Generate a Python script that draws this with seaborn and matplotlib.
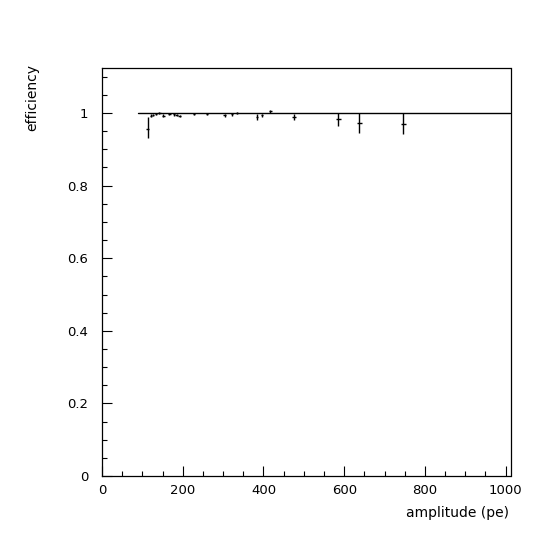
import matplotlib
matplotlib.use("Agg")
import matplotlib.pyplot as plt
import matplotlib.ticker as mticker
import pandas as pd
import seaborn as sns

# efficiency vs amplitude
amp = [113, 121.5, 127, 134, 142, 152, 167, 179, 185, 192, 228, 260,
       303.5, 322, 334, 384, 396, 417, 475.5, 585, 637, 746]
eff = [0.956, 0.993, 0.995, 0.997, 1.0, 0.993, 0.997, 0.996, 0.994, 0.992, 0.997, 0.997,
       0.994, 0.996, 1.001, 0.988, 0.994, 1.005, 0.990, 0.983, 0.972, 0.969]
err_lo = [0.026, 0.004, 0.003, 0.003, 0.003, 0.004, 0.002, 0.003, 0.003, 0.003, 0.002, 0.002,
          0.004, 0.003, 0.003, 0.008, 0.004, 0.004, 0.008, 0.018, 0.026, 0.028]
err_hi = [0.034, 0.004, 0.003, 0.003, 0.003, 0.004, 0.002, 0.003, 0.003, 0.003, 0.002, 0.002,
          0.004, 0.003, 0.003, 0.009, 0.004, 0.004, 0.008, 0.017, 0.028, 0.031]
half_width = [4, 3, 3, 3, 3, 3, 3, 3, 3, 3, 3, 3,
              3, 3, 3, 3, 3, 3, 4, 6, 6, 6]

# bins at exactly 1 form the flat line
flat_amp = [88, 1012]
flat_eff = [1.0, 1.0]

df = pd.DataFrame({"amp": amp, "eff": eff})
flat = pd.DataFrame({"amp": flat_amp, "eff": flat_eff})

sns.set_style("white")
plt.rcParams['font.family'] = ['DejaVu Sans']
plt.rcParams['text.color'] = 'black'
plt.rcParams['xtick.color'] = 'black'
plt.rcParams['ytick.color'] = 'black'

fig = plt.figure(figsize=(5.46, 5.46), dpi=100)
ax = fig.add_axes([102 / 546, 1 - 476 / 546, 408.5 / 546, 408 / 546])

sns.lineplot(data=flat, x="amp", y="eff", color="black", linewidth=1.0, ax=ax)
ax.errorbar(df["amp"], df["eff"], yerr=[err_lo, err_hi], xerr=half_width,
            fmt="none", ecolor="black", elinewidth=1.0, capsize=0)

ax.set_xlim(0, 1012)
ax.set_ylim(0, 1.124)
ax.set_xlabel("")
ax.set_ylabel("")

ax.xaxis.set_major_locator(mticker.MultipleLocator(200))
ax.xaxis.set_minor_locator(mticker.MultipleLocator(50))
ax.yaxis.set_major_locator(mticker.MultipleLocator(0.2))
ax.yaxis.set_minor_locator(mticker.MultipleLocator(0.05))
ax.xaxis.set_major_formatter(mticker.FormatStrFormatter("%g"))
ax.yaxis.set_major_formatter(mticker.FormatStrFormatter("%g"))

ax.tick_params(axis="both", which="both", direction="in", top=False, right=False,
               bottom=True, left=True, color="black", labelcolor="black",
               width=0.8, labelsize=9.5)
ax.tick_params(axis="both", which="major", length=7)
ax.tick_params(axis="both", which="minor", length=3.5)
ax.tick_params(axis="x", which="major", pad=6)
ax.tick_params(axis="y", which="major", pad=10)

for s in ax.spines.values():
    s.set_visible(True)
    s.set_color("black")
    s.set_linewidth(0.9)

fig.text(32.5 / 546, 1 - 64 / 546, "efficiency", rotation=90, ha="center", va="top",
         fontsize=10, color="black")
fig.text(509 / 546, 1 - 513 / 546, "amplitude (pe)", ha="right", va="center",
         fontsize=10, color="black")

fig.savefig("out.png", dpi=100)
